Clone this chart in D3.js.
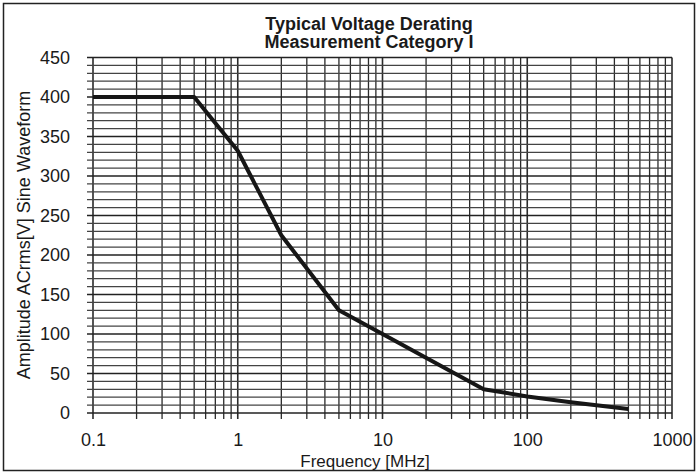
<!DOCTYPE html>
<html>
<head>
<meta charset="utf-8">
<script src="https://cdn.jsdelivr.net/npm/d3@7"></script>
<style>
  body { margin: 0; background: #fff; }
  text { font-family: "Liberation Sans", Arial, sans-serif; fill: #1a1a1a; }
</style>
</head>
<body>
<div id="chart"></div>
<script>
// curve
const freqMHz = [0.1, 0.5, 1, 2, 5, 10, 50, 100, 200, 500];
const voltsRms = [400, 400, 332, 225, 130, 100, 30, 21, 13.5, 5];
const xTickLabels = [0.1, 1, 10, 100, 1000];
const yTickLabels = [0, 50, 100, 150, 200, 250, 300, 350, 400, 450];

const width = 698, height = 473;
const margin = { top: 57.5, right: 26, bottom: 60, left: 93 };

const svg = d3.select("#chart")
  .append("svg")
  .attr("width", width)
  .attr("height", height);

// outer frame
svg.append("rect")
  .attr("x", 3.5).attr("y", 3.5)
  .attr("width", width - 7).attr("height", height - 6)
  .attr("fill", "none")
  .attr("stroke", "#222")
  .attr("stroke-width", 1.5);

const xScale = d3.scaleLog()
  .domain([0.1, 1000])
  .range([margin.left, width - margin.right]);

const yScale = d3.scaleLinear()
  .domain([0, 450])
  .range([height - margin.bottom, margin.top]);

const x0 = xScale.range()[0], x1 = xScale.range()[1];
const yb = yScale.range()[0], yt = yScale.range()[1];
const tick = 6;

// vertical grid, 1..9 per decade
const xGrid = [];
for (let d = -1; d < 3; d++) {
  for (let m = 1; m < 10; m++) xGrid.push(m * Math.pow(10, d));
}
xGrid.push(1000);

svg.append("g")
  .selectAll("line")
  .data(xGrid)
  .enter()
  .append("line")
  .attr("x1", d => xScale(d)).attr("x2", d => xScale(d))
  .attr("y1", yt).attr("y2", yb + tick)
  .attr("stroke", "#2a2a2a")
  .attr("stroke-width", d => xTickLabels.includes(d) ? 1.6 : 1.3);

// horizontal grid every 10 V
const yGrid = d3.range(0, 451, 10);
svg.append("g")
  .selectAll("line")
  .data(yGrid)
  .enter()
  .append("line")
  .attr("x1", x0 - tick).attr("x2", x1)
  .attr("y1", d => yScale(d)).attr("y2", d => yScale(d))
  .attr("stroke", d => d % 50 == 0 ? "#222" : "#444")
  .attr("stroke-width", d => d % 50 == 0 ? 1.5 : 1.2);

// axis labels via d3 axes, lines hidden
const xAxis = d3.axisBottom(xScale)
  .tickValues(xTickLabels)
  .tickFormat(d => d)
  .tickSize(0)
  .tickPadding(20);
const gx = svg.append("g")
  .attr("transform", `translate(0,${yb})`)
  .call(xAxis);
gx.select(".domain").remove();
gx.selectAll("text")
  .style("font-size", "18px")
  .style("font-family", "Liberation Sans, Arial, sans-serif")
  .attr("fill", "#1a1a1a");

const yAxis = d3.axisLeft(yScale)
  .tickValues(yTickLabels)
  .tickSize(0)
  .tickPadding(23);
const gy = svg.append("g")
  .attr("transform", `translate(${x0},0)`)
  .call(yAxis);
gy.select(".domain").remove();
gy.selectAll("text")
  .style("font-size", "18px")
  .style("font-family", "Liberation Sans, Arial, sans-serif")
  .attr("fill", "#1a1a1a");

// data line
const line = d3.line()
  .x((d, i) => xScale(freqMHz[i]))
  .y(d => yScale(d));

svg.append("path")
  .datum(voltsRms)
  .attr("d", line)
  .attr("fill", "none")
  .attr("stroke", "#161616")
  .attr("stroke-width", 4)
  .attr("stroke-linejoin", "round");

// titles
const cx = 369;
svg.append("text")
  .attr("x", cx).attr("y", 30)
  .attr("text-anchor", "middle")
  .style("font-size", "18px")
  .style("font-weight", "bold")
  .text("Typical Voltage Derating");
svg.append("text")
  .attr("x", cx).attr("y", 48)
  .attr("text-anchor", "middle")
  .style("font-size", "18px")
  .style("font-weight", "bold")
  .text("Measurement Category I");

svg.append("text")
  .attr("x", 365).attr("y", 467)
  .attr("text-anchor", "middle")
  .style("font-size", "17px")
  .text("Frequency [MHz]");

svg.append("text")
  .attr("transform", `translate(30,235) rotate(-90)`)
  .attr("text-anchor", "middle")
  .style("font-size", "18px")
  .text("Amplitude ACrms[V] Sine Waveform");
</script>
</body>
</html>
